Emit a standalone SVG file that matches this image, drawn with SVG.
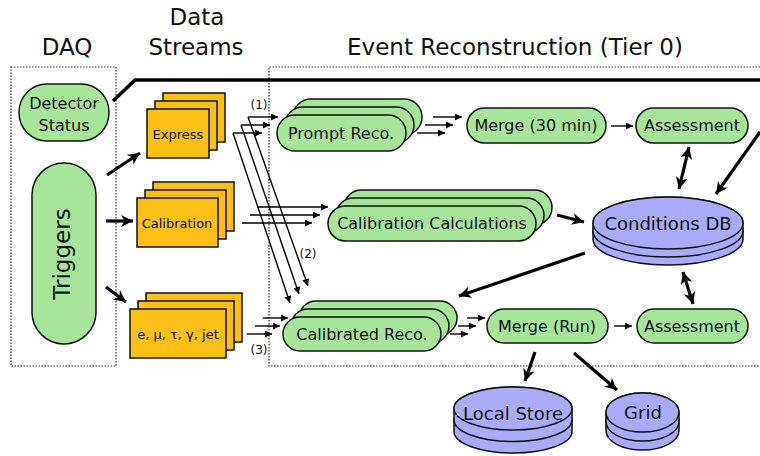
<svg xmlns="http://www.w3.org/2000/svg" width="760" height="456" viewBox="0 0 760 456">
<defs>
<marker id="ah" viewBox="0 0 10 10" refX="10" refY="5" markerWidth="9" markerHeight="7" markerUnits="userSpaceOnUse" orient="auto"><path d="M0,0 L10,5 L0,10 z" fill="#000"/></marker>
<marker id="ahb" viewBox="0 0 10 10" refX="10" refY="5" markerWidth="14" markerHeight="12" markerUnits="userSpaceOnUse" orient="auto-start-reverse"><path d="M0,0 L10,5 L0,10 L3,5 z" fill="#000"/></marker>
</defs>
<style>
text{font-family:"DejaVu Sans","Liberation Sans",sans-serif;fill:#111;text-anchor:middle}
.hd{font-size:23px}
.n{font-size:16px}
.s{font-size:13px}
.c{font-size:18px}
.l{font-size:12px}
.g{fill:#a6e699;stroke:#111;stroke-width:1.5}
.o{fill:#fcbf16;stroke:#111;stroke-width:1.5}
.p{fill:#aaaaff;stroke:#111;stroke-width:1.5}
.dot{fill:none;stroke:#333;stroke-width:1.2;stroke-dasharray:1.5 1.5}
.th{fill:none;stroke:#000;stroke-width:1.4}
.ta{fill:none;stroke:#000;stroke-width:1.4;marker-end:url(#ah)}
.tk{fill:none;stroke:#000;stroke-width:3.2;marker-end:url(#ahb)}
.tk2{fill:none;stroke:#000;stroke-width:3.2;marker-start:url(#ahb);marker-end:url(#ahb)}
</style>
<rect width="760" height="456" fill="#fff"/>

<g id="headers">
<text class="hd" x="67" y="55">DAQ</text>
<text class="hd" x="197" y="25">Data</text>
<text class="hd" x="196" y="55">Streams</text>
<text class="hd" x="515" y="55">Event Reconstruction (Tier 0)</text>
</g>

<g id="regions">
<rect class="dot" x="11" y="67" width="105" height="299"/>
<path class="dot" d="M760,67 H269 V366 H760"/>
</g>

<g id="detector-status">
<rect class="g" x="19" y="84" width="90" height="57" rx="28"/>
<text class="n" x="64" y="109">Detector</text>
<text class="n" x="64" y="131">Status</text>
</g>

<g id="triggers">
<rect class="g" x="32" y="163" width="64" height="181" rx="32"/>
<text class="hd" transform="translate(70,254) rotate(-90)">Triggers</text>
</g>

<g id="express">
<rect class="o" x="163" y="93" width="62" height="49"/>
<rect class="o" x="155" y="101" width="62" height="49"/>
<rect class="o" x="147" y="109" width="62" height="49"/>
<text class="s" x="178" y="139">Express</text>
</g>

<g id="calibration">
<rect class="o" x="153" y="182" width="81" height="49"/>
<rect class="o" x="145" y="190" width="81" height="49"/>
<rect class="o" x="137" y="198" width="81" height="49"/>
<text class="s" x="177" y="228">Calibration</text>
</g>

<g id="physics">
<rect class="o" x="146" y="293" width="96" height="49"/>
<rect class="o" x="138" y="301" width="96" height="49"/>
<rect class="o" x="130" y="309" width="96" height="49"/>
<text class="s" x="178" y="339">e, μ, τ, γ, jet</text>
</g>

<g id="prompt-reco">
<rect class="g" x="293" y="99" width="129" height="36" rx="18"/>
<rect class="g" x="285" y="107" width="129" height="36" rx="18"/>
<rect class="g" x="277" y="115" width="129" height="36" rx="18"/>
<text class="n" x="341" y="139">Prompt Reco.</text>
</g>

<g id="calibration-calculations">
<rect class="g" x="344" y="190" width="208" height="35" rx="17.5"/>
<rect class="g" x="336" y="198" width="208" height="35" rx="17.5"/>
<rect class="g" x="328" y="206" width="208" height="35" rx="17.5"/>
<text class="n" x="432" y="229">Calibration Calculations</text>
</g>

<g id="calibrated-reco">
<rect class="g" x="299" y="301" width="158" height="34" rx="17"/>
<rect class="g" x="291" y="309" width="158" height="34" rx="17"/>
<rect class="g" x="283" y="317" width="158" height="34" rx="17"/>
<text class="n" x="362" y="340">Calibrated Reco.</text>
</g>

<g id="merge-30">
<rect class="g" x="467" y="108" width="139" height="35" rx="17.5"/>
<text class="n" x="536" y="131">Merge (30 min)</text>
</g>

<g id="assessment-1">
<rect class="g" x="636" y="108" width="112" height="35" rx="17.5"/>
<text class="n" x="692" y="131">Assessment</text>
</g>

<g id="merge-run">
<rect class="g" x="487" y="309" width="121" height="34" rx="17"/>
<text class="n" x="547" y="332">Merge (Run)</text>
</g>

<g id="assessment-2">
<rect class="g" x="637" y="309" width="111" height="34" rx="17"/>
<text class="n" x="692" y="332">Assessment</text>
</g>

<g id="conditions-db">
<path class="p" d="M593,231 V239 A75,26 0 0 0 743,239 V231 A75,26 0 0 0 593,231 Z"/>
<path class="p" d="M593,223 V231 A75,26 0 0 0 743,231 V223 A75,26 0 0 0 593,223 Z"/>
<ellipse class="p" cx="668" cy="223" rx="75" ry="26"/>
<text class="c" x="668" y="230">Conditions DB</text>
</g>

<g id="local-store">
<path class="p" d="M454,420 V431.5 A59,21.5 0 0 0 572,431.5 V420 A59,21.5 0 0 0 454,420 Z"/>
<path class="p" d="M454,408.5 V420 A59,21.5 0 0 0 572,420 V408.5 A59,21.5 0 0 0 454,408.5 Z"/>
<ellipse class="p" cx="513" cy="408.5" rx="59" ry="21.5"/>
<text class="c" x="513" y="420">Local Store</text>
</g>

<g id="grid">
<path class="p" d="M606,421.5 V430.5 A36.5,19.5 0 0 0 679,430.5 V421.5 A36.5,19.5 0 0 0 606,421.5 Z"/>
<path class="p" d="M606,412.5 V421.5 A36.5,19.5 0 0 0 679,421.5 V412.5 A36.5,19.5 0 0 0 606,412.5 Z"/>
<ellipse class="p" cx="642.5" cy="412.5" rx="36.5" ry="19.5"/>
<text class="c" x="643" y="419">Grid</text>
</g>

<g id="connectors">
<!-- status feedback line -->
<path d="M113,101 L135,80 H760" fill="none" stroke="#000" stroke-width="3.5"/>
<path class="tk" d="M760,132 L716,194"/>
<!-- triggers to streams -->
<path class="tk" d="M107,175 L140,153"/>
<path class="tk" d="M106,221 L133,221"/>
<path class="tk" d="M106,287 L126,302"/>
<!-- express to prompt -->
<path class="ta" d="M248,117 H278"/>
<path class="ta" d="M241,125 H270"/>
<path class="ta" d="M233,133 H262"/>
<!-- express to calibrated (diagonal) -->
<path class="ta" d="M233,133 L290,303"/>
<path class="ta" d="M241,125 L299,294"/>
<path class="ta" d="M248,117 L308,286"/>
<!-- calibration to calc -->
<path class="ta" d="M257,207 H328"/>
<path class="ta" d="M250,215 H320"/>
<path class="ta" d="M242,223 H312"/>
<!-- physics to calibrated -->
<path class="ta" d="M263,318 H288"/>
<path class="ta" d="M255,326 H280"/>
<path class="ta" d="M247,334 H272"/>
<!-- prompt to merge -->
<path class="ta" d="M433,117 H462"/>
<path class="ta" d="M425,125 H453"/>
<path class="ta" d="M417,133 H445"/>
<path class="ta" d="M611,126 H633"/>
<!-- calibrated to merge run -->
<path class="ta" d="M467,318 H485"/>
<path class="ta" d="M458,326 H476"/>
<path class="ta" d="M450,334 H468"/>
<path class="ta" d="M614,326 H632"/>
<!-- DB links -->
<path class="tk2" d="M689,147 L679,189"/>
<path class="tk2" d="M683,272 L693,304"/>
<path class="tk" d="M557,215 L584,222"/>
<path class="tk" d="M585,253 L459,296"/>
<path class="tk" d="M535,352 L525,381"/>
<path class="tk" d="M574,353 L617,390"/>
<!-- labels -->
<text class="l" x="259" y="109">(1)</text>
<text class="l" x="308" y="258">(2)</text>
<text class="l" x="259" y="354">(3)</text>
</g>
</svg>
